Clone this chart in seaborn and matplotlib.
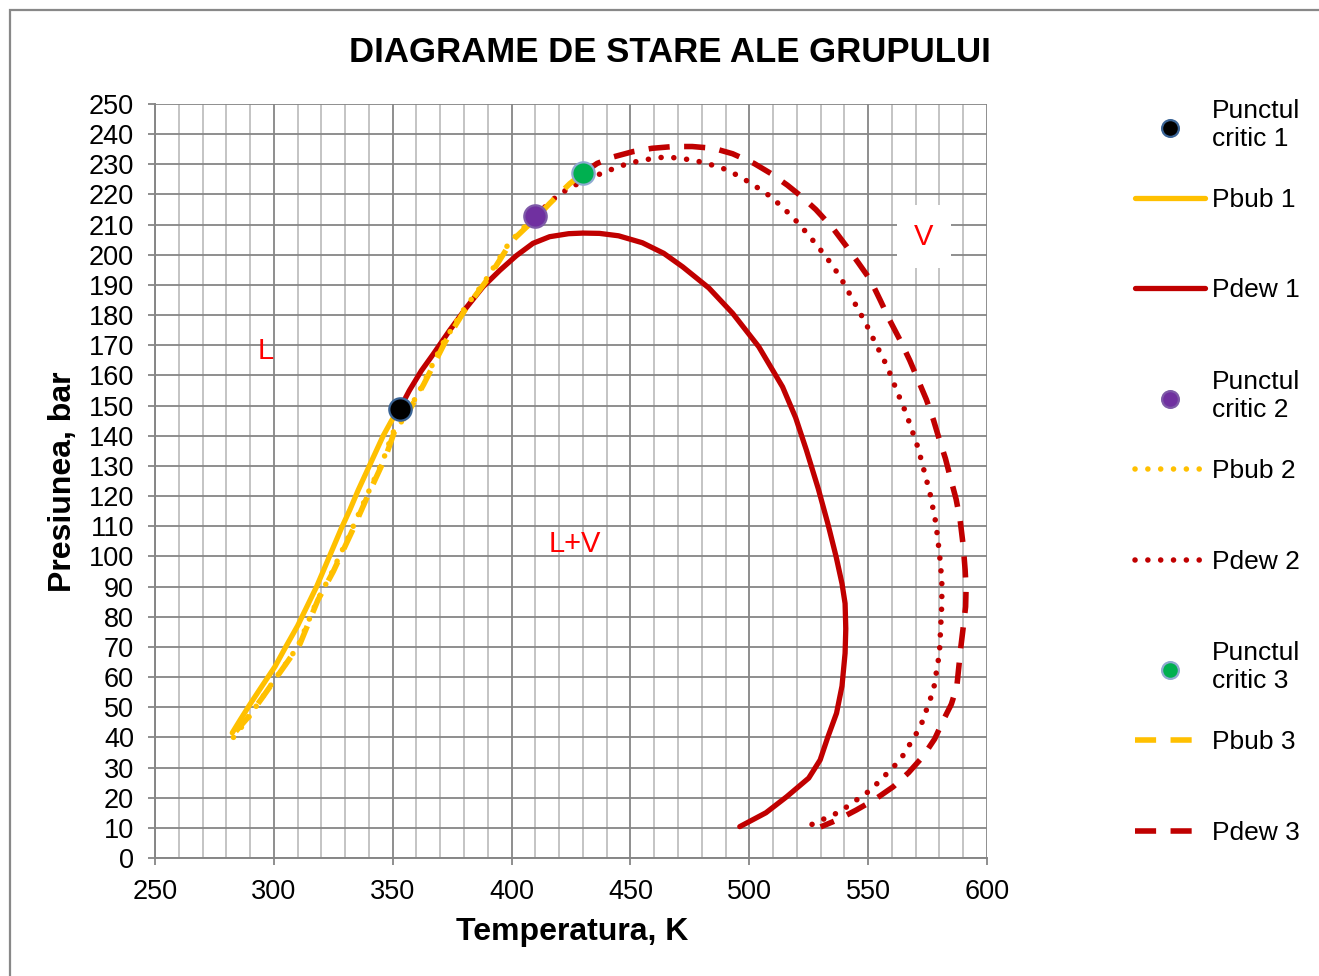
import matplotlib
matplotlib.use("Agg")
import matplotlib.pyplot as plt
import seaborn as sns
import numpy as np
from matplotlib.patches import Rectangle

# ---------------- data ----------------
cp_labels = ["Punctul\ncritic 1", "Punctul\ncritic 2", "Punctul\ncritic 3"]
cp_T = [353, 410, 430]
cp_P = [149, 213, 227]

pbub1_T = [282.5, 286, 290, 295, 300.5, 305, 310, 314, 318, 321.5, 325, 328.5, 332,
           335.5, 339, 342.5, 346, 349.5, 353]
pbub1_P = [41.5, 46, 51, 57, 63.5, 70, 77, 83.5, 90, 96.5, 103, 109.5, 115.5,
           122, 128, 134, 140, 145, 149]

pdew1_T = [353, 357, 362, 367, 374, 381, 388, 395, 402, 409, 416, 424, 430, 437, 445,
           455, 464, 472, 483, 493, 504, 514, 519.5, 524, 529, 533, 536.5, 539, 540.3,
           540.6, 540.3, 539, 536.7, 533, 529.8, 525, 515.7, 507, 496]
pdew1_P = [149, 155, 161.5, 167, 175, 182.5, 189.4, 194.8, 199.7, 203.8, 206, 207,
           207.2, 207.1, 206.3, 204, 200.5, 196, 189, 180.6, 169.5, 156.2, 146, 135.3,
           122.5, 111, 100, 91, 84.4, 76, 67.9, 57, 48, 40, 32.5, 26.5, 20.3, 15, 10.4]

pbub2_T = [283, 288, 294, 302, 310, 318, 324, 332, 339, 346, 350, 355, 362, 371,
           380, 389, 399, 410]
pbub2_P = [40, 45, 52, 61, 70, 85, 94, 107.5, 120, 132, 141, 146, 156, 170.5,
           182, 191.5, 204, 213]

pdew2_T = [410, 418, 423, 430, 441, 448, 455, 465, 476.5, 488, 496, 503, 509, 515,
           520, 525, 530, 535, 539, 544, 549, 553.5, 558, 562, 566, 571, 576, 578.5,
           580, 581, 581, 580, 577.5, 572, 563.5, 551, 538, 524]
pdew2_P = [213, 218.7, 221.5, 224.5, 228, 230, 231.4, 232.5, 231.4, 229, 226, 222.5,
           219.3, 215, 211, 206.5, 201.6, 196.5, 191.6, 184.5, 177.3, 170, 163, 155,
           147.4, 136, 121, 111, 101, 92, 84.4, 68, 55.7, 43.5, 32.5, 22.5, 15.3, 10.3]

pbub3_T = [284, 289, 295, 303, 311, 318.5, 325, 333, 340, 347, 351, 356, 363, 372,
           381, 390, 400, 410, 416, 424.5, 430]
pbub3_P = [42, 46.5, 53, 62, 71, 85.5, 95, 108.5, 121, 133, 142, 147, 157, 171,
           182.5, 192, 204.5, 212, 217, 223.6, 227]

pdew3_T = [430, 436, 443, 451, 459, 468, 476, 485, 493, 502, 509, 516, 522, 528, 535,
           541, 546, 551, 555, 559, 563.5, 567.5, 571, 574.5, 577.5, 580, 582.5, 584.5,
           587, 588.7, 590, 590.8, 591.2, 591, 590, 589, 587.3, 585, 581.7, 578, 573,
           567, 560.5, 553, 545, 537.5, 530]
pdew3_P = [227, 230.3, 232.5, 234.2, 235.3, 235.9, 235.9, 235.3, 233.5, 230.3, 227,
           223.1, 219.3, 215, 209, 202.7, 197.2, 191.6, 185.1, 178.4, 171.6, 165, 158.5,
           152, 145.2, 138.6, 132.5, 126.4, 119, 112, 103.5, 95.5, 89.5, 83.3, 76.5, 70,
           56.8, 51, 45.8, 39.5, 33.6, 28.3, 23.6, 19.5, 15.9, 12.8, 10.3]

region_labels = ["L", "L+V", "V"]
region_T = [296.5, 426.5, 573.5]
region_P = [168, 104, 206]

title = "DIAGRAME DE STARE ALE GRUPULUI"
xlabel = "Temperatura, K"
ylabel = "Presiunea, bar"

# ---------------- style ----------------
sns.set_style("white")
plt.rcParams['font.family'] = ['Liberation Sans', 'DejaVu Sans']
plt.rcParams['text.color'] = 'black'
plt.rcParams['axes.labelcolor'] = 'black'

YEL = "#FFC000"
RED = "#C00000"
MAJ = "#868686"
MIN = "#BFBFBF"

fig = plt.figure(figsize=(13.19, 9.76), dpi=100)
W, H = 1319, 976
ax = fig.add_axes([155 / W, 1 - 858 / H, 832 / W, 754 / H])

# outer chart border
fig.patches.append(Rectangle((10 / W, -0.05), 1.2, 1 - 10 / H + 0.05,
                             transform=fig.transFigure, fill=False,
                             edgecolor="#888888", linewidth=1.6, zorder=0))

common = dict(ax=ax, sort=False, estimator=None, zorder=3)
sns.lineplot(x=pbub1_T, y=pbub1_P, color=YEL, linewidth=3.8, label="Pbub 1",
             solid_capstyle="round", **common)
sns.lineplot(x=pdew1_T, y=pdew1_P, color=RED, linewidth=3.8, label="Pdew 1",
             solid_capstyle="round", **common)
sns.lineplot(x=pbub2_T, y=pbub2_P, color=YEL, linewidth=4.0, label="Pbub 2",
             linestyle=(0, (0.01, 2.3)), dash_capstyle="round", **common)
sns.lineplot(x=pdew2_T, y=pdew2_P, color=RED, linewidth=4.0, label="Pdew 2",
             linestyle=(0, (0.01, 2.3)), dash_capstyle="round", **common)
sns.lineplot(x=pbub3_T, y=pbub3_P, color=YEL, linewidth=4.0, label="Pbub 3",
             linestyle=(0, (3.8, 2.6)), dash_capstyle="butt", **common)
sns.lineplot(x=pdew3_T, y=pdew3_P, color=RED, linewidth=4.0, label="Pdew 3",
             linestyle=(0, (3.8, 2.6)), dash_capstyle="butt", **common)

cp_face = ["#000000", "#7030A0", "#00B050"]
cp_edge = ["#3A6496", "#7E5AA8", "#8EAAD0"]
for i in range(3):
    sns.scatterplot(x=[cp_T[i]], y=[cp_P[i]], ax=ax, s=260, color=cp_face[i],
                    edgecolor=cp_edge[i], linewidth=1.6, label=cp_labels[i], zorder=5)

if ax.get_legend() is not None:
    ax.get_legend().remove()

handles, labels = ax.get_legend_handles_labels()
hmap = dict(zip(labels, handles))

# ---------------- axes ----------------
ax.set_xlim(250, 600)
ax.set_ylim(0, 250)
ax.set_xticks(np.arange(250, 601, 50))
ax.set_xticks(np.arange(250, 601, 10), minor=True)
ax.set_yticks(np.arange(0, 251, 10))
ax.grid(True, which="major", axis="both", color=MAJ, linewidth=1.3, zorder=0)
ax.grid(True, which="minor", axis="x", color=MIN, linewidth=1.3, zorder=0)
ax.set_axisbelow(True)
for s in ["top", "right"]:
    ax.spines[s].set_visible(False)
for s in ["left", "bottom"]:
    ax.spines[s].set_color(MAJ)
    ax.spines[s].set_linewidth(1.4)
ax.tick_params(axis="both", which="major", direction="out", length=5, width=1.3,
               color=MAJ, labelsize=19.5, labelcolor="black")
ax.tick_params(axis="x", which="major", pad=10)
ax.tick_params(axis="y", which="major", pad=10)
ax.tick_params(axis="x", which="minor", length=0)
ax.tick_params(left=True, bottom=True)

ax.set_xlabel(xlabel, fontsize=23, fontweight="bold", va="center")
ax.set_ylabel(ylabel, fontsize=23, fontweight="bold", va="center")
ax.xaxis.set_label_coords(0.5 + (572 - 571) / 832, -(932 - 858) / 754)
ax.yaxis.set_label_coords(-(155 - 63) / 832, 0.5 - (482 - 481) / 754)

fig.text(670 / W, 1 - 52 / H, title, ha="center", va="center",
         fontsize=25, fontweight="bold", color="black")

# region labels
for lab, t, p in zip(region_labels, region_T, region_P):
    kw = {}
    if lab == "V":
        kw["bbox"] = dict(boxstyle="square,pad=0.6", facecolor="white", edgecolor="none")
    ax.text(t, p, lab, color="#FF0000", fontsize=21, ha="center", va="center",
            zorder=4, **kw)

# ---------------- legend ----------------
order = ["Punctul\ncritic 1", "Pbub 1", "Pdew 1", "Punctul\ncritic 2", "Pbub 2",
         "Pdew 2", "Punctul\ncritic 3", "Pbub 3", "Pdew 3"]
ypix = [125, 200, 290, 396, 471, 562, 667, 742, 833]
for lab, yp in zip(order, ypix):
    fig.legend(handles=[hmap[lab]], labels=[lab], loc="center left",
               bbox_to_anchor=(1135 / W, 1 - yp / H), frameon=False,
               fontsize=19, handlelength=2.65, handletextpad=0.28,
               borderpad=0, borderaxespad=0, markerscale=0.75)

fig.savefig("out.png", dpi=100)
